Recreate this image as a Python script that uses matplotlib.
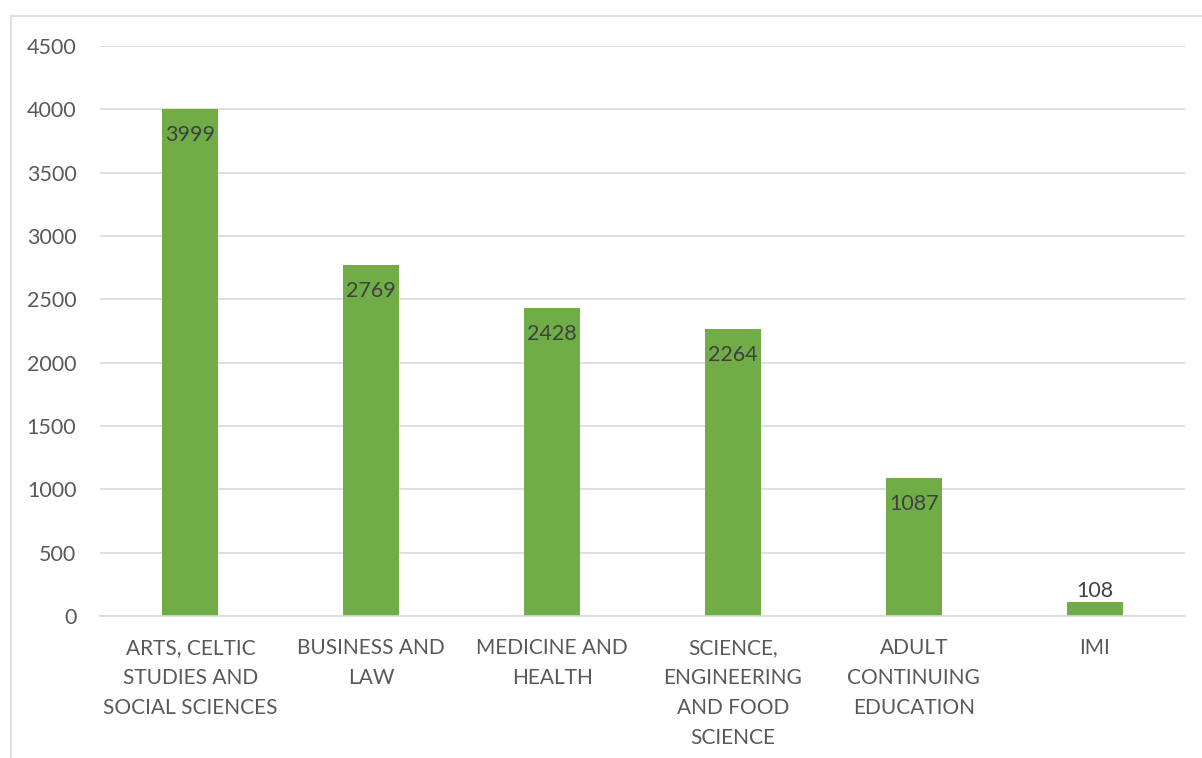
import matplotlib
matplotlib.use("Agg")
import matplotlib.pyplot as plt
from matplotlib.patches import Rectangle

# faculties and student counts
faculties = ["ARTS, CELTIC\nSTUDIES AND\nSOCIAL SCIENCES",
             "BUSINESS AND\nLAW",
             "MEDICINE AND\nHEALTH",
             "SCIENCE,\nENGINEERING\nAND FOOD\nSCIENCE",
             "ADULT\nCONTINUING\nEDUCATION",
             "IMI"]
students = [3999, 2769, 2428, 2264, 1087, 108]
yticks = [0, 500, 1000, 1500, 2000, 2500, 3000, 3500, 4000, 4500]

plt.rcParams['font.family'] = ['Lato', 'DejaVu Sans']

fig = plt.figure(figsize=(12.02, 7.58), dpi=100)
W, H = 1202, 758

# chart border (only the top/left edges fall inside the image)
fig.patches.append(Rectangle((11 / W, -0.1), 1.2, 1 - 16 / H + 0.1,
                             transform=fig.transFigure, fill=False,
                             edgecolor="#D9D9D9", linewidth=1.2))

ax = fig.add_axes([100 / W, 1 - 616 / H, (1185 - 100) / W, (616 - 46) / H])

x = range(len(faculties))
bars = ax.bar(x, students, width=0.31, color="#70AD47", zorder=3)

ax.set_xlim(-0.5, len(faculties) - 0.5)
ax.set_ylim(0, 4500)
ax.set_yticks(yticks)
ax.set_yticklabels([str(v) for v in yticks], fontsize=15.5, color="#595959")
ax.yaxis.grid(True, color="#D9D9D9", linewidth=1.2, zorder=0)
ax.set_xticks(list(x))
ax.set_xticklabels(faculties, fontsize=15, color="#595959", linespacing=1.62)
ax.tick_params(axis="both", length=0)
ax.tick_params(axis="x", pad=16)
ax.tick_params(axis="y", pad=17)

for s in ["top", "right", "left"]:
    ax.spines[s].set_visible(False)
ax.spines["bottom"].set_color("#D9D9D9")
ax.spines["bottom"].set_linewidth(1.2)
ax.spines["bottom"].set_zorder(4)

# value labels: inside the bar end, or above when the bar is too short
for i, v in enumerate(students):
    if v > 300:
        ax.annotate(str(v), (i, v), xytext=(0, -26), textcoords="offset pixels",
                    ha="center", va="center", fontsize=15.5, color="#404040", zorder=5)
    else:
        ax.annotate(str(v), (i, v), xytext=(0, 11), textcoords="offset pixels",
                    ha="center", va="center", fontsize=15.5, color="#404040", zorder=5)

fig.savefig("out.png", dpi=100)
